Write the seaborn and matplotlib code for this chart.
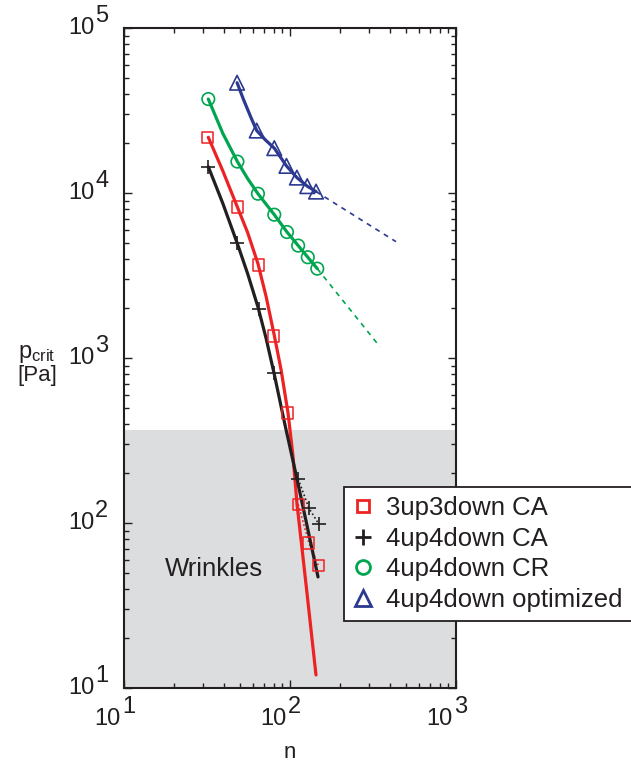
import numpy as np
import pandas as pd
import matplotlib
matplotlib.use("Agg")
import matplotlib.pyplot as plt
import matplotlib.ticker as mticker
import matplotlib.transforms as mtransforms
from matplotlib.lines import Line2D
import seaborn as sns

# ---------------- data ----------------
n_sq = [32, 48, 65, 80, 97, 112, 130, 148]
p_sq = [21800, 8220, 3660, 1360, 464, 130, 75.7, 55.6]
n_plus = [32, 48, 65, 80, 112, 130, 149]
p_plus = [14400, 4980, 1980, 811, 185, 123, 98.6]
n_circ = [32.2, 48.2, 64.1, 80.4, 95.9, 112, 128, 146]
p_circ = [37100, 15500, 9900, 7390, 5800, 4800, 4080, 3480]
n_tri = [48, 63, 80.4, 95.2, 110, 127, 143.5]
p_tri = [46600, 23900, 18700, 14600, 12400, 11000, 10200]

# fitted curves
n_fit_red = [32.2, 39.4, 48.1, 55.6, 64.2, 71.8, 80.4, 88.4, 97.3, 104.2, 110.2, 125.7, 143.4]
p_fit_red = [21760, 13590, 8260, 5746, 3712, 2356, 1372, 846, 464, 255, 130.4, 40.1, 12.0]
n_fit_black = [32.2, 39.4, 48.1, 55.6, 64.2, 71.7, 80.1, 93.3, 110.2, 147.5]
p_fit_black = [14430, 8640, 4958, 3238, 2029, 1322, 811, 393, 185, 47.1]
n_fit_green = [32.2, 39.4, 48.2, 55.6, 64.1, 80.4, 95.9, 112, 128, 146]
p_fit_green = [37100, 22940, 15500, 12210, 9900, 7390, 5800, 4800, 4080, 3480]
n_fit_blue = [48, 52.5, 58, 63, 71, 80.4, 95.2, 110, 127, 143.5]
p_fit_blue = [46600, 36800, 28900, 23900, 21000, 18700, 14600, 12400, 11000, 10200]
n_ext_green = [146, 348]
p_ext_green = [3480, 1170]
n_ext_blue = [143.5, 435]
p_ext_blue = [10200, 5070]

labels = ["3up3down CA", "4up4down CA", "4up4down CR", "4up4down optimized"]
wrinkle_limit = 366

RED = "#ed2224"
BLACK = "#231f20"
GREEN = "#00a54f"
BLUE = "#2b3990"
GRAY = "#dcddde"

sns.set_style("ticks")
plt.rcParams["font.family"] = ["Liberation Sans", "DejaVu Sans"]
plt.rcParams["mathtext.fontset"] = "custom"
plt.rcParams["mathtext.rm"] = "Liberation Sans"
plt.rcParams["mathtext.it"] = "Liberation Sans"

W, H = 631, 769
fig = plt.figure(figsize=(W / 100, H / 100), dpi=100)
ax = fig.add_axes([124 / W, 1 - 688 / H, (456 - 124) / W, (688 - 28) / H])
ax.set_xscale("log")
ax.set_yscale("log")
ax.set_xlim(10, 1000)
ax.set_ylim(10, 1e5)

ax.axhspan(10, wrinkle_limit, color=GRAY, zorder=0, lw=0)

lw = 2.3
def line(x, y, color, ls="-", lw=lw, z=2):
    sns.lineplot(x=x, y=y, ax=ax, color=color, lw=lw, linestyle=ls,
                 estimator=None, sort=False, zorder=z)

# extensions / dotted
line(n_ext_green, p_ext_green, GREEN, ls=(0, (3, 3)), lw=1.2)
line(n_ext_blue, p_ext_blue, BLUE, ls=(0, (3, 3)), lw=1.2)
line(n_sq[5:], p_sq[5:], RED, ls=(0, (1, 1.5)), lw=1.2)
line(n_plus[4:], p_plus[4:], BLACK, ls=(0, (1, 1.5)), lw=1.2)

# fitted solid curves
line(n_fit_red, p_fit_red, RED, z=3)
line(n_fit_black, p_fit_black, BLACK, z=4)
line(n_fit_green, p_fit_green, GREEN, z=3)
line(n_fit_blue, p_fit_blue, BLUE, z=3)

# markers
sns.scatterplot(x=n_sq, y=p_sq, ax=ax, marker="s", s=8**2, facecolor="none",
                edgecolor=RED, linewidth=1.1, zorder=5)
sns.scatterplot(x=n_plus, y=p_plus, ax=ax, marker="+", s=10**2, color=BLACK,
                linewidth=1.2, zorder=5)
sns.scatterplot(x=n_circ, y=p_circ, ax=ax, marker="o", s=9**2, facecolor="none",
                edgecolor=GREEN, linewidth=1.2, zorder=5)
sns.scatterplot(x=n_tri, y=p_tri, ax=ax, marker="^", s=10.5**2, facecolor="none",
                edgecolor=BLUE, linewidth=1.2, zorder=5)

# spines and ticks
for sp in ax.spines.values():
    sp.set_visible(True)
    sp.set_linewidth(1.5)
    sp.set_color(BLACK)
ax.tick_params(which="both", direction="in", top=True, right=True,
               color=BLACK, width=1.0)
ax.tick_params(which="major", length=6)
ax.tick_params(which="minor", length=3.5)
ax.xaxis.set_major_locator(mticker.LogLocator(base=10, numticks=10))
ax.yaxis.set_major_locator(mticker.LogLocator(base=10, numticks=10))
ax.xaxis.set_minor_locator(mticker.LogLocator(base=10, subs=np.arange(2, 10), numticks=20))
ax.yaxis.set_minor_locator(mticker.LogLocator(base=10, subs=np.arange(2, 10), numticks=20))
ax.xaxis.set_major_formatter(mticker.NullFormatter())
ax.yaxis.set_major_formatter(mticker.NullFormatter())
ax.xaxis.set_minor_formatter(mticker.NullFormatter())
ax.yaxis.set_minor_formatter(mticker.NullFormatter())
ax.set_xlabel("")
ax.set_ylabel("")

# manual tick labels: "10" with full-size raised exponent
fs_tick = 17
tcol = BLACK
ytr = ax.get_yaxis_transform()
xtr = ax.get_xaxis_transform()
for k in range(1, 6):
    t1 = mtransforms.offset_copy(ytr, fig=fig, x=-30, y=0, units="dots")
    ax.text(0, 10**k, "10", transform=t1, ha="right", va="center",
            fontsize=fs_tick, color=tcol, clip_on=False)
    t2 = mtransforms.offset_copy(ytr, fig=fig, x=-29, y=12, units="dots")
    ax.text(0, 10**k, str(k), transform=t2, ha="left", va="center",
            fontsize=fs_tick, color=tcol, clip_on=False)
for k in range(1, 4):
    t1 = mtransforms.offset_copy(xtr, fig=fig, x=-3, y=-31, units="dots")
    ax.text(10**k, 0, "10", transform=t1, ha="right", va="center",
            fontsize=fs_tick, color=tcol, clip_on=False)
    t2 = mtransforms.offset_copy(xtr, fig=fig, x=-2, y=-19, units="dots")
    ax.text(10**k, 0, str(k), transform=t2, ha="left", va="center",
            fontsize=fs_tick, color=tcol, clip_on=False)

# axis labels
fig.text(37 / W, 1 - 354 / H, r"p$_{\mathregular{crit}}$", ha="center", va="center",
         fontsize=17, color=tcol)
fig.text(37 / W, 1 - 375 / H, "[Pa]", ha="center", va="center",
         fontsize=16, color=tcol)
fig.text(290 / W, 1 - 752 / H, "n", ha="center", va="center",
         fontsize=16, color=tcol)

ax.text(0.271, 0.18, "Wrinkles", transform=ax.transAxes, ha="center", va="center",
        fontsize=18.5, color=tcol)

# legend
handles = [
    Line2D([], [], ls="none", marker="s", ms=9, mfc="none", mec=RED, mew=2),
    Line2D([], [], ls="none", marker="+", ms=11, color=BLACK, mew=2),
    Line2D([], [], ls="none", marker="o", ms=10, mfc="none", mec=GREEN, mew=2),
    Line2D([], [], ls="none", marker="^", ms=11, mfc="none", mec=BLUE, mew=2),
]
leg = fig.legend(handles, labels, loc="upper left",
                 bbox_to_anchor=(344 / W, 1 - 487 / H), borderaxespad=0,
                 fontsize=18.5, frameon=True, fancybox=False, framealpha=1,
                 edgecolor=BLACK, handlelength=0.8, handletextpad=0.5,
                 borderpad=0.35, labelspacing=0.26)
leg.get_frame().set_linewidth(1.3)
for t in leg.get_texts():
    t.set_color(tcol)

fig.savefig("out.png", dpi=100)
